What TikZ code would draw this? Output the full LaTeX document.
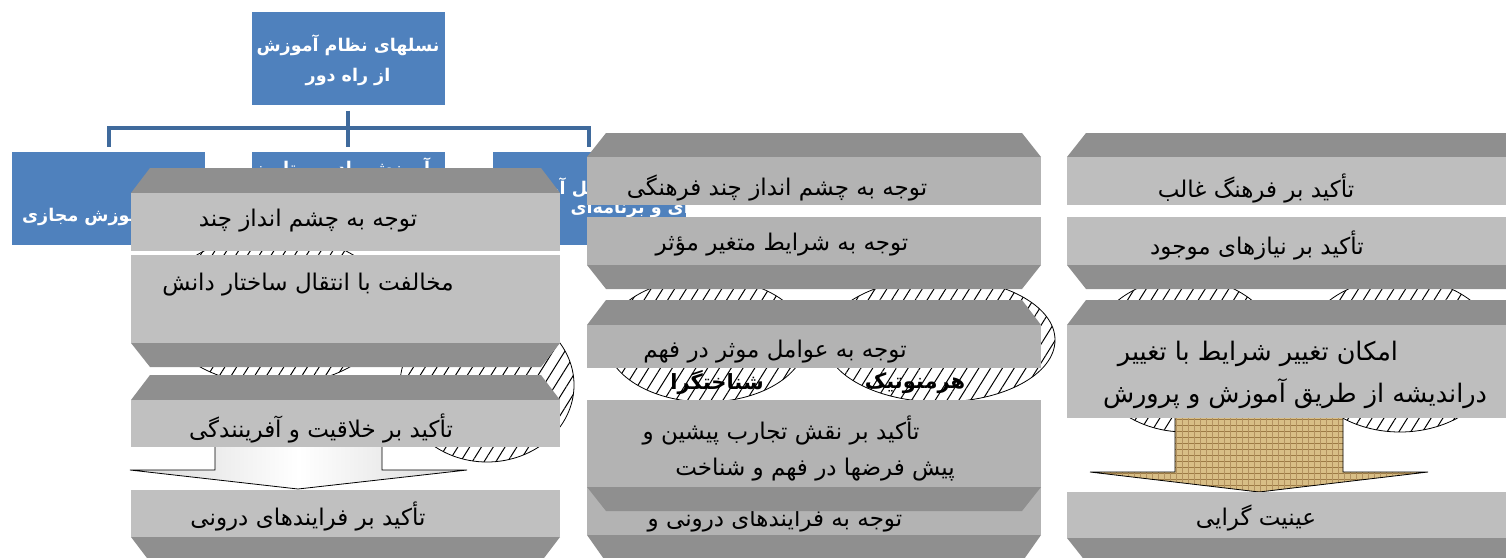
\documentclass[tikz,border=0pt]{standalone}
\usepackage{fontspec}
\usetikzlibrary{patterns.meta}
\TeXXeTstate=1
\newfontfamily\fa[Script=Arabic]{DejaVu Sans}
\definecolor{pblue}{HTML}{4F81BD}
\definecolor{cblue}{HTML}{3F6A9C}
\definecolor{bandc}{HTML}{8F8F8F}
\definecolor{liteL}{HTML}{C0C0C0}
\definecolor{liteM}{HTML}{B3B3B3}
\definecolor{liteR}{HTML}{BEBEBE}
\definecolor{burlap}{HTML}{D8BE86}
\definecolor{burlapD}{HTML}{9C7A44}
\definecolor{burlapE}{HTML}{B39260}
% box with bevel band on top: x1,x2,ytop,ymid,ybot,colour
\newcommand\gtop[6]{%
  \fill[bandc] ({#1+19},{-#3}) -- ({#2-19},{-#3}) -- (#2,{-#4}) -- (#1,{-#4}) -- cycle;
  \fill[#6] (#1,{-#4}) rectangle (#2,{-#5});}
% box with bevel band below
\newcommand\gbot[6]{%
  \fill[#6] (#1,{-#3}) rectangle (#2,{-#4});
  \fill[bandc] (#1,{-#4}) -- (#2,{-#4}) -- ({#2-19},{-#5}) -- ({#1+19},{-#5}) -- cycle;}
\begin{document}
\begin{tikzpicture}[x=1pt,y=1pt,
  bbox/.style={fill=pblue, minimum width=193pt, minimum height=93pt, inner sep=0pt},
  btxt/.style={font=\fa\bfseries\fontsize{17.5}{30}\selectfont, text=white, inner sep=0pt, align=center},
  gtxt/.style={font=\fa\fontsize{23}{28}\selectfont, text=black, inner sep=0pt},
  gbig/.style={font=\fa\fontsize{25.5}{30}\selectfont, text=black, inner sep=0pt},
  lab/.style={font=\fa\bfseries\fontsize{21}{25}\selectfont, text=black, inner sep=0pt},
  conn/.style={draw=cblue, line width=4pt},
  hatch/.style={draw=black, line width=0.8pt, fill=white,
    postaction={pattern={Lines[angle=58,distance=10pt,line width=1pt]}, pattern color=black}},
  arrowout/.style={draw=black, line width=0.8pt}]
\useasboundingbox (0,0) rectangle (1506,-557);
\clip (0,0) rectangle (1506,-557);

% ---- blue hierarchy ----
\node[bbox] (root) at (348,-58) {};
\node[btxt] (roott) at (348,-60) {\beginR نسلهای نظام آموزش\endR\\\beginR از راه دور\endR};
\node[bbox] (b1) at (108.5,-198.5) {};
\node[bbox] (b2) at (348,-198.5) {};
\node[bbox] (b3) at (589,-198.5) {};
\draw[conn] ([yshift=-6pt]root.south) -- ([yshift=5pt]b2.north);
\draw[conn] ([yshift=5pt]b1.north) -- ++(0,19) -| ([yshift=5pt]b3.north);
\node[btxt, anchor=west] (b1t) at (22,-215) {\beginR نسل آموزش مجازی\endR};
\node[btxt] (b2t) at (349,-168) {\beginR نسل آموزش رادیو و تلویزیون\endR};
\node[btxt, anchor=east] (b3t1) at (612,-188) {\beginR نسل آموزش و\endR};
\node[btxt, anchor=east] (b3t2) at (690,-209) {\beginR ای و برنامه‌ای\endR};

% ---- hatched circles ----
\path[hatch] (275,-310) ellipse [x radius=115, y radius=75];
\path[hatch] (487,-385) ellipse [x radius=87, y radius=77];
\path[hatch] (706,-340) ellipse [x radius=100, y radius=62];
\path[hatch] (940,-340) ellipse [x radius=115, y radius=62];
\path[hatch] (1185,-355) ellipse [x radius=95, y radius=77];
\path[hatch] (1400,-355) ellipse [x radius=100, y radius=77];
\node[lab] (lab1) at (717,-383) {\beginR شناختگرا\endR};
\node[lab] (lab2) at (915,-383) {\beginR هرمنوتیک\endR};

% ---- arrows ----
\shade[left color=gray!30, right color=gray!30, middle color=white]
  (215,-440) -- (382,-440) -- (382,-470) -- (467,-470) -- (298,-489) -- (130,-470) -- (215,-470) -- cycle;
\draw[arrowout] (215,-440) -- (215,-470) -- (130,-470) -- (298,-489) -- (467,-470) -- (382,-470) -- (382,-440);
\fill[burlap] (1175,-410) -- (1343,-410) -- (1343,-472) -- (1428,-472) -- (1259,-492) -- (1090,-472) -- (1175,-472) -- cycle;
\fill[pattern={Lines[angle=0,distance=6pt,line width=1pt]}, pattern color=burlapD]
  (1175,-410) -- (1343,-410) -- (1343,-472) -- (1428,-472) -- (1259,-492) -- (1090,-472) -- (1175,-472) -- cycle;
\fill[pattern={Lines[angle=90,distance=6pt,line width=1pt]}, pattern color=burlapE]
  (1175,-410) -- (1343,-410) -- (1343,-472) -- (1428,-472) -- (1259,-492) -- (1090,-472) -- (1175,-472) -- cycle;
\draw[arrowout] (1175,-410) -- (1175,-472) -- (1090,-472) -- (1259,-492) -- (1428,-472) -- (1343,-472) -- (1343,-410);

% ---- left column ----
\gtop{131}{560}{168}{193}{251}{liteL}
\gbot{131}{560}{255}{343}{367}{liteL}
\gtop{131}{560}{375}{400}{447}{liteL}
\gbot{131}{560}{490}{537}{562}{liteL}
\node[gtxt] (l1) at (308,-221) {\beginR توجه به چشم انداز چند\endR};
\node[gtxt] (l2) at (308,-285) {\beginR مخالفت با انتقال ساختار دانش\endR};
\node[gtxt] (l3) at (321,-428) {\beginR تأکید بر خلاقیت و آفرینندگی\endR};
\node[gtxt] (l4) at (308,-516) {\beginR تأکید بر فرایندهای درونی\endR};

% ---- middle column ----
\gtop{587}{1041}{133}{157}{205}{liteM}
\gbot{587}{1041}{217}{265}{289}{liteM}
\gtop{587}{1041}{300}{325}{368}{liteM}
\gbot{587}{1041}{487}{535}{562}{liteM}
\node[gtxt] (m5) at (775,-521) {\beginR توجه به فرایندهای درونی و\endR};
\gbot{587}{1041}{400}{487}{511}{liteM}
\node[gtxt] (m1) at (777,-188) {\beginR توجه به چشم انداز چند فرهنگی\endR};
\node[gtxt] (m2) at (782,-245) {\beginR توجه به شرایط متغیر مؤثر\endR};
\node[gtxt] (m3) at (775,-352) {\beginR توجه به عوامل موثر در فهم\endR};
\node[gtxt] (m4a) at (781,-430) {\beginR تأکید بر نقش تجارب پیشین و\endR};
\node[gtxt] (m4b) at (815,-470) {\beginR پیش فرضها در فهم و شناخت\endR};

% ---- right column ----
\gtop{1067}{1530}{133}{157}{205}{liteR}
\gbot{1067}{1530}{217}{265}{289}{liteR}
\gtop{1067}{1530}{300}{325}{418}{liteR}
\gbot{1067}{1530}{492}{538}{562}{liteR}
\node[gtxt] (r1) at (1256,-188) {\beginR تأکید بر فرهنگ غالب\endR};
\node[gtxt] (r2) at (1257,-245) {\beginR تأکید بر نیازهای موجود\endR};
\node[gbig] (r3a) at (1258,-354) {\beginR امکان تغییر شرایط با تغییر\endR};
\node[gbig] (r3b) at (1295,-394) {\beginR دراندیشه از طریق آموزش و پرورش\endR};
\node[gtxt] (r4) at (1256,-518) {\beginR عینیت گرایی\endR};
\end{tikzpicture}
\end{document}
